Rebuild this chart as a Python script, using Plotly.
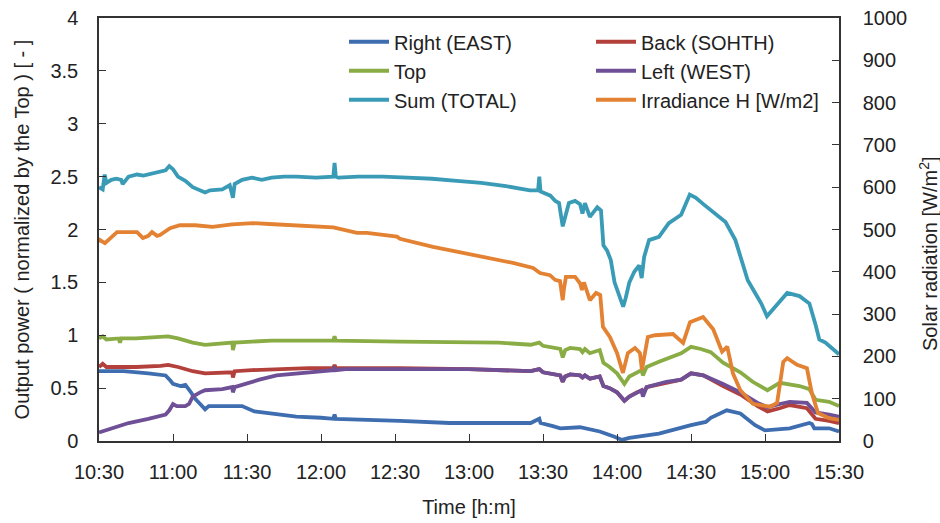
import plotly.graph_objects as go

# time in minutes after 10:30
tick_vals = [0, 30, 60, 90, 120, 150, 180, 210, 240, 270, 300]
tick_text = ["10:30", "11:00", "11:30", "12:00", "12:30", "13:00", "13:30",
             "14:00", "14:30", "15:00", "15:30"]

# Sum (TOTAL) - left axis
sum_t = [0, 1.5, 2.3, 3, 5, 7, 9, 9.6, 12, 15.4, 18, 22, 25, 27, 28.5, 30, 32, 35, 38, 43, 45, 50, 53,
         54.3, 55, 58, 62, 66, 70, 75, 80, 88, 95, 95.5, 96, 97, 105, 115, 125, 135, 145, 155, 165,
         174.7, 178, 178.5, 179, 180, 183, 185, 186.5, 188, 189, 190.5, 193, 195, 196, 197, 199, 202,
         203.5, 204.5, 206, 207.5, 209, 211, 212.5, 213.5, 215, 217, 219, 220, 221, 223, 227, 231,
         236, 239.5, 242, 245, 248, 254, 258, 263, 266, 268.5, 270.8, 274, 279, 284, 288, 290.5, 292,
         294.5, 297, 300]
sum_v = [2.40, 2.38, 2.52, 2.44, 2.47, 2.48, 2.47, 2.43, 2.50, 2.52, 2.51, 2.53, 2.55, 2.56, 2.60,
         2.57, 2.50, 2.46, 2.40, 2.35, 2.37, 2.38, 2.42, 2.30, 2.43, 2.47, 2.49, 2.47, 2.49, 2.50, 2.50,
         2.49, 2.50, 2.63, 2.50, 2.49, 2.50, 2.50, 2.49, 2.48, 2.46, 2.44, 2.41, 2.37, 2.37, 2.50, 2.36,
         2.35, 2.32, 2.27, 2.25, 2.03, 2.12, 2.25, 2.27, 2.24, 2.15, 2.25, 2.12, 2.21, 2.18, 1.85, 1.80,
         1.71, 1.50, 1.38, 1.27, 1.35, 1.50, 1.60, 1.66, 1.54, 1.74, 1.90, 1.93, 2.06, 2.14, 2.33, 2.30,
         2.24, 2.18, 2.07, 1.90, 1.52, 1.40, 1.30, 1.18, 1.27, 1.40, 1.37, 1.30, 1.10, 0.96, 0.93, 0.88,
         0.82]

# Top - left axis
top_t = [0, 1.5, 3, 8, 8.5, 9, 15, 25, 28, 32, 38, 43, 50, 54, 54.3, 55, 62, 70, 85, 95, 95.5, 96, 122,
         162, 175, 178.5, 180, 184, 187, 188, 189, 191, 195, 196, 197, 199, 203, 204.5, 207, 210, 213,
         215, 218, 220, 220.5, 222, 227, 232, 236, 240, 244, 248, 253, 260, 265, 271, 276, 284, 288,
         290.5, 296, 300]
top_v = [0.97, 0.99, 0.96, 0.97, 0.93, 0.97, 0.97, 0.98, 0.99, 0.97, 0.93, 0.91, 0.92, 0.93, 0.86, 0.93,
         0.94, 0.95, 0.95, 0.95, 0.99, 0.95, 0.94, 0.93, 0.91, 0.93, 0.90, 0.88, 0.87, 0.79, 0.86, 0.88,
         0.87, 0.84, 0.87, 0.83, 0.86, 0.74, 0.70, 0.64, 0.54, 0.61, 0.65, 0.67, 0.62, 0.70, 0.75, 0.79,
         0.83, 0.89, 0.87, 0.84, 0.74, 0.65, 0.56, 0.48, 0.55, 0.52, 0.49, 0.39, 0.37, 0.33]

# Back (SOHTH) - left axis
back_t = [0, 1.5, 3, 15, 25, 28, 32, 38, 43, 50, 54, 54.3, 55, 62, 70, 85, 95, 95.5, 96, 122, 150, 175,
          178.5, 180, 187, 188, 189, 191, 195, 196, 197, 199, 203, 204.5, 207, 210, 213, 215, 218, 220,
          220.5, 222, 230, 236, 240, 245, 253, 260, 267, 271, 276, 280, 287, 290.5, 296, 300]
back_v = [0.70, 0.73, 0.70, 0.70, 0.71, 0.72, 0.70, 0.66, 0.64, 0.65, 0.65, 0.60, 0.66, 0.67, 0.68, 0.69,
          0.69, 0.72, 0.69, 0.69, 0.68, 0.66, 0.68, 0.65, 0.62, 0.56, 0.61, 0.63, 0.62, 0.60, 0.62, 0.59,
          0.61, 0.52, 0.50, 0.46, 0.38, 0.42, 0.46, 0.48, 0.44, 0.51, 0.55, 0.58, 0.64, 0.62, 0.52, 0.44,
          0.33, 0.28, 0.31, 0.34, 0.31, 0.21, 0.19, 0.17]

# Left (WEST) - left axis
left_t = [0, 5, 12, 20, 27, 28.5, 30, 31.5, 35, 36.5, 38, 41, 43, 50, 54, 54.3, 55, 58, 65, 72, 80, 90,
          95, 95.5, 96, 100, 122, 150, 175, 178.5, 180, 187, 188, 189, 191, 195, 196, 197, 199, 203,
          204.5, 207, 210, 213, 215, 218, 220, 220.5, 222, 230, 236, 240, 245, 253, 260, 267, 271, 276,
          280, 287, 290.5, 296, 300]
left_v = [0.08, 0.12, 0.17, 0.21, 0.25, 0.29, 0.35, 0.33, 0.33, 0.35, 0.42, 0.46, 0.48, 0.49, 0.51, 0.46,
          0.51, 0.53, 0.58, 0.62, 0.64, 0.66, 0.67, 0.70, 0.67, 0.68, 0.68, 0.68, 0.66, 0.68, 0.65, 0.62,
          0.56, 0.61, 0.63, 0.62, 0.60, 0.62, 0.59, 0.61, 0.52, 0.50, 0.46, 0.38, 0.42, 0.46, 0.48, 0.42,
          0.51, 0.56, 0.58, 0.64, 0.62, 0.54, 0.46, 0.36, 0.32, 0.35, 0.37, 0.36, 0.27, 0.25, 0.23]

# Right (EAST) - left axis
right_t = [0, 10, 20, 27, 29, 30, 33, 35, 37, 39, 41, 43, 44.5, 50, 58, 63, 72, 80, 90, 95, 95.5, 96,
           122, 142, 162, 175, 178.5, 179, 184, 187, 195, 203, 209, 212, 215, 227, 240, 246, 248, 254.5,
           260, 266, 270, 280, 288, 289, 290, 296, 300]
right_v = [0.66, 0.66, 0.64, 0.62, 0.57, 0.54, 0.52, 0.53, 0.47, 0.40, 0.35, 0.30, 0.33, 0.33, 0.33,
           0.28, 0.25, 0.23, 0.22, 0.21, 0.25, 0.21, 0.19, 0.17, 0.17, 0.17, 0.21, 0.17, 0.14, 0.12, 0.13,
           0.09, 0.04, 0.01, 0.03, 0.07, 0.15, 0.18, 0.22, 0.29, 0.26, 0.15, 0.10, 0.12, 0.17, 0.16, 0.12,
           0.12, 0.09]

# Irradiance H [W/m2] - right axis
irr_t = [0, 0.4, 2.4, 7.3, 15.4, 17.8, 20, 21.5, 23.5, 24.7, 28.8, 32.8, 39, 46, 54, 62.4, 69, 78.6, 85.5,
         90.8, 95, 104.6, 108.6, 120.8, 122, 135.4, 149, 162.6, 167.8, 176, 178.8, 182.8, 184.9, 186.9,
         188, 188.5, 189.3, 193, 195, 195.8, 196.6, 199, 201.5, 203.2, 204.3, 207.1, 210, 212.4, 214.4,
         217.3, 219.3, 220.1, 222.5, 225.4, 232.7, 236.8, 239.6, 244.9, 249, 252.6, 254.7, 257, 260, 265.1,
         272, 274.9, 277.4, 279, 283, 287, 289, 291.5, 296, 300]
irr_v = [470, 475, 468, 494, 494, 480, 485, 494, 485, 487, 503, 510, 510, 506, 512, 515, 513, 510, 508, 506,
         505, 492, 492, 483, 478, 459, 444, 428, 421, 409, 397, 392, 381, 378, 333, 360, 388, 388, 373, 357,
         375, 333, 350, 345, 270, 246, 208, 161, 208, 220, 208, 168, 246, 250, 253, 232, 281, 293, 264, 211,
         223, 160, 120, 88, 81, 90, 187, 196, 180, 172, 113, 66, 54, 50]

FONT = "Liberation Sans, Arial, sans-serif"
TXT = "#222222"
AX = "#333333"

series = [
    ("Right (EAST)", right_t, right_v, "#3F6EB0", "y", "legend"),
    ("Back (SOHTH)", back_t, back_v, "#B3403B", "y", "legend2"),
    ("Top", top_t, top_v, "#89AC45", "y", "legend"),
    ("Left (WEST)", left_t, left_v, "#6F5096", "y", "legend2"),
    ("Sum (TOTAL)", sum_t, sum_v, "#3A9BB6", "y", "legend"),
    ("Irradiance H [W/m2]", irr_t, irr_v, "#E38232", "y2", "legend2"),
]

fig = go.Figure()
for name, t, v, col, ax, lg in series:
    fig.add_trace(go.Scatter(x=t, y=v, name=name, mode="lines", yaxis=ax, legend=lg,
                             line=dict(color=col, width=3.8)))

legend_common = dict(font=dict(family=FONT, size=20, color=TXT), bgcolor="rgba(0,0,0,0)",
                     orientation="v", xanchor="left", yanchor="top", itemwidth=40,
                     tracegroupgap=0)

fig.update_layout(
    width=940, height=523,
    margin=dict(l=99, r=101, t=18, b=82, autoexpand=False),
    paper_bgcolor="white", plot_bgcolor="white",
    font=dict(family=FONT, size=20, color=TXT),
    showlegend=True,
    legend=dict(x=(344 - 99) / 740, y=0.990, **legend_common),
    legend2=dict(x=(591 - 99) / 740, y=0.990, **legend_common),
    xaxis=dict(range=[0, 300], tickmode="array", tickvals=tick_vals, ticktext=tick_text,
               ticks="inside", ticklen=7, tickwidth=1.3, tickcolor=AX, automargin=False,
               showline=True, linecolor=AX, linewidth=1.5, mirror=True,
               showgrid=False, zeroline=False, ticklabelstandoff=12,
               tickfont=dict(size=20, color=TXT),
               title=dict(text="Time [h:m]", font=dict(size=20, color=TXT), standoff=18)),
    yaxis=dict(range=[0, 4], dtick=0.5, tick0=0, ticks="inside", ticklen=7, tickwidth=1.3,
               tickcolor=AX, showline=True, linecolor=AX, linewidth=1.5, automargin=False,
               showgrid=False, zeroline=False, ticklabelstandoff=15,
               tickfont=dict(size=20, color=TXT),
               title=dict(text="Output power ( normalized by the Top ) [ - ]",
                          font=dict(size=20, color=TXT), standoff=15)),
    yaxis2=dict(range=[0, 1000], dtick=100, tick0=0, overlaying="y", side="right",
                ticks="inside", ticklen=7, tickwidth=1.3, tickcolor=AX, automargin=False,
                showline=True, linecolor=AX, linewidth=1.5,
                showgrid=False, zeroline=False, ticklabelstandoff=18,
                tickfont=dict(size=20, color=TXT)),
    annotations=[dict(text="Solar radiation [W/m<sup>2</sup>]", xref="paper", yref="paper",
                      x=(929 - 99) / 740, y=(441 - 254) / 423, textangle=-90,
                      showarrow=False, xanchor="center", yanchor="middle",
                      font=dict(family=FONT, size=20, color=TXT))],
)

fig.write_html("out.html", config={"displayModeBar": False},
               post_script="document.body.style.margin='0px';")
